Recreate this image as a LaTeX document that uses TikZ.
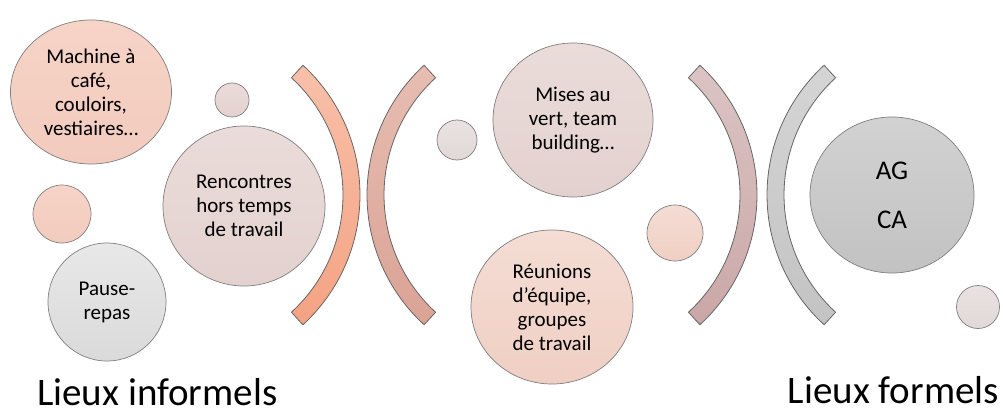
\documentclass[tikz,border=0pt]{standalone}
\usepackage{fontspec}
\setmainfont{Carlito}
\usetikzlibrary{shapes.geometric,calc}

% fills of the bubbles (top / bottom of each gradient)
\definecolor{salmonT}{HTML}{F6D4C7}\definecolor{salmonB}{HTML}{F2CBBD}
\definecolor{roseT}{HTML}{EADCDA}\definecolor{roseB}{HTML}{E3D1CF}
\definecolor{greyT}{HTML}{E8E8E8}\definecolor{greyB}{HTML}{DADADA}
\definecolor{peachT}{HTML}{F4DDD5}\definecolor{peachB}{HTML}{F0CFC3}
\definecolor{stoneT}{HTML}{D2D2D2}\definecolor{stoneB}{HTML}{C2C2C2}
\definecolor{mistT}{HTML}{EAE2E2}\definecolor{mistB}{HTML}{E2D8D8}
\definecolor{edge}{HTML}{7F7F7F}
% fills of the four brackets
\definecolor{arcAT}{HTML}{F8C0A9}\definecolor{arcAB}{HTML}{F4A383}
\definecolor{arcBT}{HTML}{E7BDB2}\definecolor{arcBB}{HTML}{DAA395}
\definecolor{arcCT}{HTML}{DCC4C4}\definecolor{arcCB}{HTML}{CAA7A7}
\definecolor{arcDT}{HTML}{D5D5D5}\definecolor{arcDB}{HTML}{C3C3C3}

\tikzset{
  bubble/.style={ellipse, draw=edge, line width=0.7pt, inner sep=0pt,
    align=center, font=\fontsize{21}{24}\selectfont, text=black},
  bracket/.style={draw=edge!80!black, line width=0.8pt, line join=miter},
  title/.style={font=\fontsize{39}{42}\selectfont, inner sep=0pt, text=black},
}

% closed band of a ring between two radii, cut radially at both ends
\newcommand{\ringband}[5]{% centre x, centre y, first angle, second angle, style
  \path[bracket,#5]
    (#1,#2) ++(#3:176) arc[start angle=#3, end angle=#4, radius=176]
    -- ($(#1,#2)+(#4:159)$) arc[start angle=#4, end angle=#3, radius=159]
    -- cycle;}

\begin{document}
\begin{tikzpicture}[x=1pt,y=-1pt]
\useasboundingbox (0,0) rectangle (1003,412);

% brackets
\ringband{184}{195}{-47.5}{47.5}{top color=arcAT, bottom color=arcAB}
\ringband{543}{195}{132.5}{227.5}{top color=arcBT, bottom color=arcBB}
\ringband{581}{195}{-47.5}{47.5}{top color=arcCT, bottom color=arcCB}
\ringband{943}{195}{132.5}{227.5}{top color=arcDT, bottom color=arcDB}

% informal side
\node[bubble, minimum width=161pt, minimum height=144pt,
      top color=salmonT, bottom color=salmonB] (cafe) at (91,92)
      {Machine à\\café,\\couloirs,\\vestiaires…};
\node[bubble, minimum width=34pt, minimum height=34pt,
      top color=roseT, bottom color=roseB] (dotA) at (232,100) {};
\node[bubble, minimum width=58pt, minimum height=58pt,
      top color=salmonT, bottom color=salmonB] (dotB) at (62,214) {};
\node[bubble, minimum width=118pt, minimum height=118pt,
      top color=greyT, bottom color=greyB] (pause) at (107,302)
      {Pause-\\repas};
\node[bubble, minimum width=162pt, minimum height=160pt,
      top color=roseT, bottom color=roseB] (hors) at (244,206)
      {Rencontres\\hors temps\\de travail};

% middle
\node[bubble, minimum width=40pt, minimum height=40pt,
      top color=mistT, bottom color=mistB] (dotC) at (457,140) {};
\node[bubble, minimum width=160pt, minimum height=154pt,
      top color=roseT, bottom color=roseB] (vert) at (573,120)
      {Mises au\\vert, team\\building…};
\node[bubble, minimum width=162pt, minimum height=154pt,
      top color=peachT, bottom color=peachB] (equipe) at (552,307)
      {Réunions\\d’équipe,\\groupes\\de travail};
\node[bubble, minimum width=56pt, minimum height=56pt,
      top color=peachT, bottom color=peachB] (dotD) at (675,233) {};

% formal side
\node[bubble, minimum width=164pt, minimum height=156pt,
      top color=stoneT, bottom color=stoneB,
      font=\fontsize{27}{49}\selectfont] (agca) at (892,195) {AG\\CA};
\node[bubble, minimum width=43pt, minimum height=43pt,
      top color=mistT, bottom color=mistB] (dotE) at (978,307) {};

% captions
\node[title, anchor=base west] (informel) at (37,405) {Lieux informels};
\node[title, anchor=base east] (formel) at (999,403) {Lieux formels};
\end{tikzpicture}
\end{document}
